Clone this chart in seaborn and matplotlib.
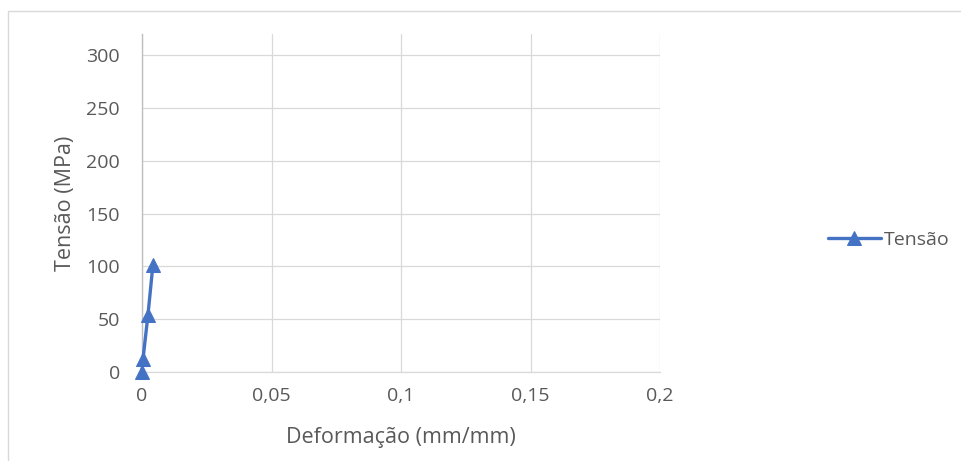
import matplotlib
matplotlib.use("Agg")
import matplotlib.pyplot as plt
import seaborn as sns
import pandas as pd
from matplotlib.patches import Rectangle

deformacao = [0.0, 0.0004, 0.0023, 0.0042]
tensao = [0.0, 12.5, 54.0, 101.0]
x_ticks = [0, 0.05, 0.1, 0.15, 0.2]
x_tick_labels = ["0", "0,05", "0,1", "0,15", "0,2"]
y_ticks = [0, 50, 100, 150, 200, 250, 300]
y_tick_labels = ["0", "50", "100", "150", "200", "250", "300"]
series_name = "Tensão"

df = pd.DataFrame({"Deformação": deformacao, "Tensão": tensao})

sns.set_theme(style="white")
plt.rcParams["font.family"] = ["Open Sans", "DejaVu Sans"]

text_color = "#595959"
grid_color = "#D9D9D9"
line_color = "#4472C4"

fig = plt.figure(figsize=(9.62, 4.61), dpi=100)
fig.patch.set_facecolor("white")
fig.patches.append(Rectangle((8 / 962, -0.1), 1.2, 1 - 11 / 461 + 0.1,
                             transform=fig.transFigure, fill=False,
                             edgecolor=grid_color, linewidth=1.0, zorder=0))

ax = fig.add_axes([142 / 962, 1 - 372 / 461, 518 / 962, 338 / 461])
sns.lineplot(data=df, x="Deformação", y="Tensão", ax=ax, sort=False,
             color=line_color, linewidth=2.4, marker="^", markersize=10,
             markeredgecolor=line_color, markerfacecolor=line_color,
             label=series_name, clip_on=False, zorder=5)

ax.set_xlim(0, 0.2)
ax.set_ylim(0, 320)
ax.set_xticks(x_ticks)
ax.set_xticklabels(x_tick_labels)
ax.set_yticks(y_ticks)
ax.set_yticklabels(y_tick_labels)
ax.tick_params(axis="both", length=0, labelsize=14, labelcolor=text_color)
ax.tick_params(axis="y", pad=16)
ax.tick_params(axis="x", pad=11)
ax.grid(True, color=grid_color, linewidth=0.9)
ax.set_axisbelow(True)
for s in ["top", "right"]:
    ax.spines[s].set_visible(False)
ax.spines["left"].set_color("#BFBFBF")
ax.spines["left"].set_linewidth(1.0)
ax.spines["bottom"].set_color(grid_color)
ax.spines["bottom"].set_linewidth(0.9)

ax.set_xlabel("Deformação (mm/mm)", fontsize=15.5, color=text_color, va="center")
ax.set_ylabel("Tensão (MPa)", fontsize=15.5, color=text_color, va="center")
ax.xaxis.set_label_coords(0.5, (372 - 437) / 338)
ax.yaxis.set_label_coords((65 - 142) / 518, 0.5)

leg = ax.legend(loc="center left", bbox_to_anchor=(828 / 962, 1 - 240 / 461),
                bbox_transform=fig.transFigure, frameon=False, fontsize=14,
                handlelength=2.7, handletextpad=0.15, borderpad=0, borderaxespad=0)
for t in leg.get_texts():
    t.set_color(text_color)

fig.savefig("out.png", dpi=100)
